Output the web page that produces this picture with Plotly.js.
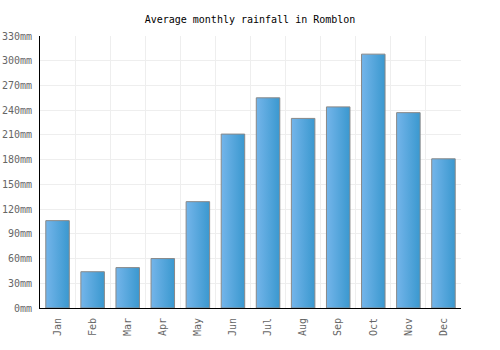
<!DOCTYPE html>
<html>
<head>
<meta charset="utf-8">
<script src="https://cdn.plot.ly/plotly-3.0.1.min.js"></script>
<style>html,body{margin:0;padding:0;background:#fff;}#chart{width:500px;height:350px;}</style>
</head>
<body>
<div id="chart"></div>
<script>
const months = ["Jan","Feb","Mar","Apr","May","Jun","Jul","Aug","Sep","Oct","Nov","Dec"];
const rainfall = [106, 44, 49, 60, 129, 211, 255, 230, 244, 308, 237, 181];
const yTickVals = [0, 30, 60, 90, 120, 150, 180, 210, 240, 270, 300, 330];
const yTickText = yTickVals.map(v => v + "mm");

const font = "DejaVu Sans Mono, monospace";

const trace = {
  type: "bar",
  x: months,
  y: rainfall,
  marker: {color: "#55a5dc", line: {color: "#888888", width: 1}},
  hoverinfo: "none"
};

const layout = {
  width: 500, height: 350,
  margin: {l: 40, r: 39, t: 36, b: 42},
  paper_bgcolor: "#ffffff", plot_bgcolor: "#ffffff",
  bargap: 0.33,
  showlegend: false,
  title: {text: "Average monthly rainfall in Romblon", font: {family: font, size: 10, color: "#000"}, x: 0.5, xanchor: "center", y: 0.944, yanchor: "middle"},
  xaxis: {
    type: "category",
    tickson: "boundaries",
    showgrid: true, gridcolor: "#eeeeee", gridwidth: 1,
    showline: true, linecolor: "#000", linewidth: 1,
    ticks: "", tickangle: -90, ticklabelstandoff: 5,
    tickfont: {family: font, size: 10, color: "#666"},
    fixedrange: true, zeroline: false, mirror: false
  },
  yaxis: {
    range: [0, 330],
    tickvals: yTickVals, ticktext: yTickText,
    showgrid: true, gridcolor: "#eeeeee", gridwidth: 1,
    showline: true, linecolor: "#000", linewidth: 1,
    ticks: "", zeroline: false, ticklabelstandoff: 5,
    tickfont: {family: font, size: 10, color: "#666"},
    fixedrange: true
  }
};

Plotly.newPlot("chart", [trace], layout, {staticPlot: true, displayModeBar: false}).then(gd => {
  const svg = gd.querySelector("svg.main-svg");
  const ns = "http://www.w3.org/2000/svg";
  let defs = svg.querySelector("defs");
  if (!defs) { defs = document.createElementNS(ns, "defs"); svg.insertBefore(defs, svg.firstChild); }
  const g = document.createElementNS(ns, "linearGradient");
  g.setAttribute("id", "barGrad");
  g.setAttribute("x1", "0"); g.setAttribute("y1", "0");
  g.setAttribute("x2", "1"); g.setAttribute("y2", "0");
  const s1 = document.createElementNS(ns, "stop");
  s1.setAttribute("offset", "0"); s1.setAttribute("stop-color", "#74b5ea");
  const s2 = document.createElementNS(ns, "stop");
  s2.setAttribute("offset", "1"); s2.setAttribute("stop-color", "#3a98cf");
  g.appendChild(s1); g.appendChild(s2);
  defs.appendChild(g);
  gd.querySelectorAll(".bars .point path").forEach(p => { p.style.fill = "url(#barGrad)"; });
});
</script>
</body>
</html>
